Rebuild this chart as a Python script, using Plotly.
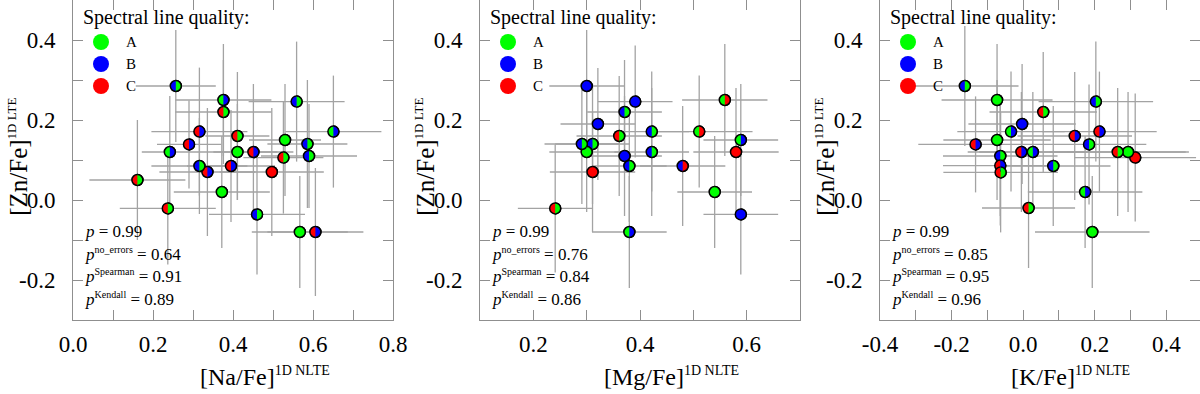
import plotly.graph_objects as go

QCOL = {"A": "#00ff00", "B": "#0000ff", "C": "#ff0000"}

# ---- [Na/Fe] vs [Zn/Fe] ----
na_x = [0.257, 0.376, 0.376, 0.559, 0.316, 0.411, 0.651, 0.290, 0.530, 0.586, 0.242, 0.411, 0.451,
        0.590, 0.526, 0.316, 0.336, 0.395, 0.497, 0.161, 0.372, 0.237, 0.460, 0.567, 0.606]
na_y = [0.285, 0.250, 0.220, 0.246, 0.171, 0.160, 0.171, 0.139, 0.150, 0.140, 0.120, 0.120, 0.120,
        0.110, 0.106, 0.085, 0.070, 0.085, 0.070, 0.050, 0.020, -0.021, -0.036, -0.080, -0.080]
na_xerr = [0.10, 0.12, 0.12, 0.12, 0.12, 0.08, 0.12, 0.08, 0.09, 0.10, 0.07, 0.10, 0.10,
           0.12, 0.10, 0.12, 0.12, 0.11, 0.13, 0.12, 0.12, 0.12, 0.12, 0.12, 0.12]
na_yerr = [0.14, 0.14, 0.13, 0.15, 0.16, 0.16, 0.14, 0.11, 0.14, 0.16, 0.14, 0.12, 0.17,
           0.13, 0.14, 0.12, 0.16, 0.14, 0.16, 0.15, 0.14, 0.14, 0.15, 0.14, 0.16]
na_zn_q = ["B", "A", "C", "B", "C", "C", "A", "C", "A", "B", "A", "A", "C",
           "B", "C", "B", "C", "C", "C", "C", "A", "C", "B", "A", "C"]
na_el_q = ["A", "B", "A", "A", "B", "A", "B", "B", "A", "A", "B", "A", "B",
           "A", "A", "A", "B", "B", "C", "A", "A", "A", "A", "A", "B"]

# ---- [Mg/Fe] vs [Zn/Fe] ----
mg_x = [0.300, 0.391, 0.559, 0.371, 0.321, 0.422, 0.511, 0.361, 0.291, 0.311, 0.589, 0.300,
        0.422, 0.580, 0.371, 0.380, 0.480, 0.311, 0.540, 0.241, 0.589, 0.380]
mg_y = [0.285, 0.246, 0.250, 0.220, 0.190, 0.171, 0.171, 0.160, 0.140, 0.140, 0.150, 0.120,
        0.120, 0.120, 0.110, 0.085, 0.085, 0.070, 0.020, -0.021, -0.036, -0.080]
mg_xerr = [0.07, 0.07, 0.08, 0.07, 0.07, 0.07, 0.10, 0.08, 0.07, 0.07, 0.07, 0.07,
           0.07, 0.08, 0.07, 0.07, 0.08, 0.08, 0.07, 0.07, 0.07, 0.07]
mg_yerr = [0.14, 0.14, 0.14, 0.13, 0.14, 0.15, 0.14, 0.15, 0.15, 0.15, 0.14, 0.15,
           0.16, 0.16, 0.15, 0.14, 0.15, 0.15, 0.14, 0.16, 0.15, 0.14]
mg_zn_q = ["B", "B", "A", "B", "B", "B", "A", "C", "B", "B", "A", "A",
           "B", "C", "B", "B", "B", "C", "A", "C", "B", "A"]
mg_el_q = ["B", "B", "C", "A", "B", "A", "C", "A", "A", "A", "B", "A",
           "A", "C", "B", "A", "C", "C", "A", "A", "B", "B"]

# ---- [K/Fe] vs [Zn/Fe] ----
k_x = [-0.163, -0.073, 0.203, 0.056, -0.003, -0.034, 0.213, 0.144, -0.073, -0.133, 0.184, -0.005,
       0.027, 0.264, 0.293, 0.313, -0.064, -0.064, -0.063, 0.084, 0.173, 0.015, 0.193]
k_y = [0.285, 0.250, 0.246, 0.220, 0.190, 0.171, 0.171, 0.160, 0.150, 0.139, 0.139, 0.120,
       0.120, 0.120, 0.120, 0.106, 0.110, 0.086, 0.069, 0.085, 0.020, -0.020, -0.080]
k_xerr = [0.15, 0.155, 0.16, 0.15, 0.15, 0.15, 0.16, 0.16, 0.15, 0.16, 0.16, 0.15,
          0.15, 0.19, 0.17, 0.17, 0.16, 0.16, 0.16, 0.16, 0.16, 0.13, 0.16]
k_yerr = [0.15, 0.14, 0.15, 0.15, 0.15, 0.15, 0.15, 0.16, 0.15, 0.12, 0.15, 0.15,
          0.15, 0.16, 0.15, 0.16, 0.15, 0.15, 0.15, 0.15, 0.14, 0.15, 0.14]
k_zn_q = ["B", "A", "B", "C", "B", "A", "C", "C", "A", "C", "B", "C",
          "A", "C", "A", "C", "B", "C", "C", "B", "A", "C", "A"]
k_el_q = ["A", "A", "A", "A", "B", "B", "B", "B", "A", "B", "A", "B",
          "B", "A", "A", "C", "A", "B", "A", "A", "B", "A", "A"]

x_titles = ["[Na/Fe]", "[Mg/Fe]", "[K/Fe]"]
p_vals = [["0.99", "0.64", "0.91", "0.89"],
          ["0.99", "0.76", "0.84", "0.86"],
          ["0.99", "0.85", "0.95", "0.96"]]
p_names = ["", "no_errors", "Spearman", "Kendall"]

y_ticks = [-0.3, -0.2, -0.1, 0.0, 0.1, 0.2, 0.3, 0.4, 0.5]
y_text = ["", "-0.2", "", "0.0", "", "0.2", "", "0.4", ""]
x_ticks = [[0.0, 0.1, 0.2, 0.3, 0.4, 0.5, 0.6, 0.7, 0.8],
           [0.1, 0.2, 0.3, 0.4, 0.5, 0.6, 0.7],
           [-0.4, -0.3, -0.2, -0.1, 0.0, 0.1, 0.2, 0.3, 0.4]]
x_text = [["0.0", "", "0.2", "", "0.4", "", "0.6", "", "0.8"],
          ["", "0.2", "", "0.4", "", "0.6", ""],
          ["-0.4", "", "-0.2", "", "0.0", "", "0.2", "", "0.4"]]
x_ranges = [[0.0, 0.8], [0.1, 0.7], [-0.4, 0.494]]
x_domains = [[73 / 1200, 393 / 1200], [480 / 1200, 800 / 1200], [880 / 1200, 1.0]]
y_domain = [1 - 320 / 394, 1.0]
title_half = [35, 38, 31]

panels = [
    (na_x, na_y, na_xerr, na_yerr, na_zn_q, na_el_q),
    (mg_x, mg_y, mg_xerr, mg_yerr, mg_zn_q, mg_el_q),
    (k_x, k_y, k_xerr, k_yerr, k_zn_q, k_el_q),
]

FONT = "Liberation Serif, Times New Roman, serif"
GRAY = "#8f8f8f"
R = 5.5
kk = 0.5523 * R
HALF = (f"M 0,{R} C {kk:.2f},{R} {R},{kk:.2f} {R},0 "
        f"C {R},{-kk:.2f} {kk:.2f},{-R} 0,{-R}")

fig = go.Figure()
shapes = []
annotations = []

for i, (xs, ys, xe, ye, lq, rq) in enumerate(panels):
    n = "" if i == 0 else str(i + 1)
    xa, ya = "x" + n, "y" + n
    fig.add_trace(go.Scatter(
        x=xs, y=ys, xaxis=xa, yaxis=ya, mode="markers", showlegend=False,
        error_x=dict(type="data", array=xe, color="#a3a3a3", thickness=1.3, width=0),
        error_y=dict(type="data", array=ye, color="#a3a3a3", thickness=1.3, width=0),
        marker=dict(size=2 * R, color=[QCOL[q] for q in lq], line=dict(color="black", width=1.5)),
    ))
    # right half of each marker coloured by the element's line quality
    for x, y, q in zip(xs, ys, rq):
        shapes.append(dict(type="path", xref=xa, yref=ya, xsizemode="pixel", ysizemode="pixel",
                           xanchor=x, yanchor=y, path=HALF, fillcolor=QCOL[q],
                           line=dict(color="black", width=1.5), layer="above"))

    ax_common = dict(showline=True, linecolor=GRAY, linewidth=1, mirror="ticks", ticks="inside",
                     ticklen=10, tickcolor=GRAY, tickwidth=1, showgrid=False, zeroline=False,
                     tickmode="array", automargin=False,
                     tickfont=dict(family=FONT, size=23, color="black"))
    fig.update_layout(**{
        "xaxis" + n: dict(domain=x_domains[i], range=x_ranges[i], anchor=ya,
                          tickvals=x_ticks[i], ticktext=x_text[i], ticklabelstandoff=3, **ax_common),
        "yaxis" + n: dict(domain=y_domain, range=[-0.3, 0.5], anchor=xa,
                          tickvals=y_ticks, ticktext=y_text, ticklabelstandoff=12, **ax_common),
    })

    dx, dy = xa + " domain", ya + " domain"
    # legend
    annotations.append(dict(xref=dx, yref=dy, x=0, y=1, xanchor="left", yanchor="middle",
                            xshift=8, yshift=-17, showarrow=False, text="Spectral line quality:",
                            font=dict(family=FONT, size=20, color="black")))
    for j, q in enumerate(["A", "B", "C"]):
        cy = -42 - 22 * j
        shapes.append(dict(type="circle", xref=dx, yref=dy, xsizemode="pixel", ysizemode="pixel",
                           xanchor=0, yanchor=1, x0=20, x1=36, y0=cy - 8, y1=cy + 8,
                           fillcolor=QCOL[q], line=dict(width=0), layer="above"))
        annotations.append(dict(xref=dx, yref=dy, x=0, y=1, xanchor="left", yanchor="middle",
                                xshift=51, yshift=cy, showarrow=False, text=q,
                                font=dict(family=FONT, size=15, color="black")))
    # statistics
    for j, (nm, pv) in enumerate(zip(p_names, p_vals[i])):
        sup = f"<sup><span style='font-size:10px'>{nm}</span></sup>" if nm else ""
        annotations.append(dict(xref=dx, yref=dy, x=0, y=0, xanchor="left", yanchor="bottom",
                                xshift=10, yshift=77 - 22.6 * j, showarrow=False,
                                text=f"<i>p</i>{sup} = {pv}",
                                font=dict(family=FONT, size=17, color="black")))
    # axis titles
    annotations.append(dict(xref=dx, yref=dy, x=0.5, y=0, xanchor="left", yanchor="top",
                            xshift=-title_half[i], yshift=-41, showarrow=False,
                            text=f"{x_titles[i]}<sup><span style='font-size:14px'>1D NLTE</span></sup>",
                            font=dict(family=FONT, size=24, color="black")))
    annotations.append(dict(xref=dx, yref=dy, x=0, y=0.51, xanchor="center", yanchor="middle",
                            xshift=-55, showarrow=False, textangle=-90,
                            text="[Zn/Fe]<sup><span style='font-size:13px'>1D LTE</span></sup>",
                            font=dict(family=FONT, size=25, color="black")))

fig.update_layout(width=1200, height=394, margin=dict(l=0, r=0, t=0, b=0),
                  font=dict(family=FONT, color="black"),
                  plot_bgcolor="white", paper_bgcolor="white",
                  shapes=shapes, annotations=annotations)

fig.write_html("out.html", config={"displayModeBar": False},
               post_script="document.body.style.margin='0';")
